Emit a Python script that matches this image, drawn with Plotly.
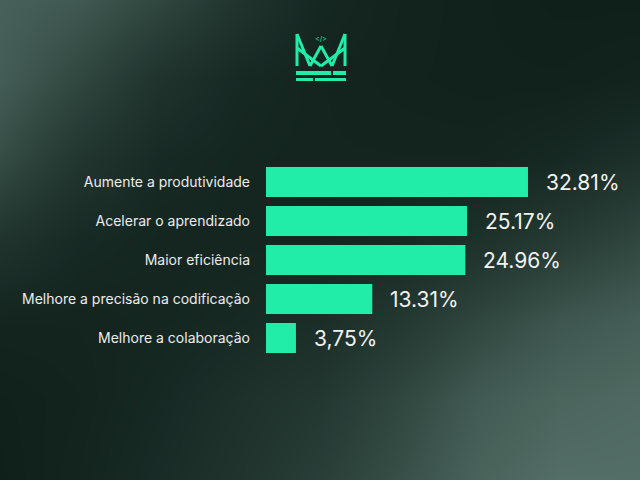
import plotly.graph_objects as go

# ---- data ----
categories = ["Aumente a produtividade", "Acelerar o aprendizado", "Maior eficiência",
              "Melhore a precisão na codificação", "Melhore a colaboração"]
values = [32.81, 25.17, 24.96, 13.31, 3.75]
value_labels = ["32.81%", "25.17%", "24.96%", "13.31%", "3,75%"]

# ---- background brightness grid (decoration) ----
bg_x = [0, 80, 160, 240, 320, 400, 480, 560, 640]
bg_y = [0, 80, 160, 240, 320, 400, 480]
bg_z = [
    [0.85, 0.75, 0.55, 0.30, 0.12, 0.06, 0.03, 0.00, 0.00],
    [0.80, 0.55, 0.28, 0.14, 0.08, 0.05, 0.03, 0.03, 0.06],
    [0.62, 0.32, 0.15, 0.10, 0.08, 0.08, 0.08, 0.14, 0.25],
    [0.30, 0.15, 0.10, 0.10, 0.10, 0.14, 0.25, 0.40, 0.55],
    [0.08, 0.08, 0.10, 0.14, 0.20, 0.35, 0.55, 0.72, 0.82],
    [0.02, 0.06, 0.14, 0.25, 0.35, 0.55, 0.78, 0.90, 0.95],
    [0.00, 0.08, 0.18, 0.30, 0.45, 0.65, 0.88, 1.00, 1.00],
]

GREEN = "#22EDA8"
FONT = "Inter"

fig = go.Figure()

fig.add_trace(go.Heatmap(
    x=bg_x, y=bg_y, z=bg_z, zsmooth="best", showscale=False, hoverinfo="skip",
    colorscale=[[0, "#0f1f1a"], [0.5, "#2c423b"], [1, "#536e66"]],
    zmin=0, zmax=1, xaxis="x", yaxis="y",
))

fig.add_trace(go.Bar(
    x=values, y=categories, orientation="h", marker=dict(color=GREEN, line=dict(width=0)),
    xaxis="x2", yaxis="y2", hoverinfo="skip",
))

for v, c, t in zip(values, categories, value_labels):
    fig.add_annotation(x=v, y=c, xref="x2", yref="y2", text=t, showarrow=False,
                       xanchor="left", xshift=16,
                       font=dict(family=FONT, size=21, color="#f2f2f2"))

# ---- logo (decoration, pixel coords on background axes) ----
lw = 3
logo_lines = [
    (297, 34, 297, 66), (345, 34, 345, 66),
    (297, 34, 310, 66), (310, 66, 321, 46), (321, 46, 332, 66), (332, 66, 345, 34),
    (297, 48, 321, 66), (321, 66, 345, 48),
]
shapes = []
for x0, y0, x1, y1 in logo_lines:
    shapes.append(dict(type="line", xref="x", yref="y", x0=x0, y0=y0, x1=x1, y1=y1,
                       line=dict(color=GREEN, width=lw)))
for x0, y0, x1, y1 in [(296, 71, 331, 75), (333, 71, 346, 75), (296, 78, 313, 81), (315, 78, 346, 81)]:
    shapes.append(dict(type="rect", xref="x", yref="y", x0=x0, y0=y0, x1=x1, y1=y1,
                       fillcolor=GREEN, line=dict(width=0)))
fig.add_annotation(x=321, y=38, xref="x", yref="y", text="&lt;/&gt;", showarrow=False,
                   font=dict(family=FONT, size=7, color=GREEN))

fig.update_layout(
    width=640, height=480, margin=dict(l=0, r=0, t=0, b=0),
    paper_bgcolor="#13231e", plot_bgcolor="rgba(0,0,0,0)",
    showlegend=False, shapes=shapes, bargap=0.23,
    xaxis=dict(domain=[0, 1], range=[0, 640], visible=False, fixedrange=True),
    yaxis=dict(domain=[0, 1], range=[480, 0], visible=False, fixedrange=True),
    xaxis2=dict(domain=[266 / 640, 620 / 640], range=[0, 354 / 7.985], visible=False,
                anchor="y2"),
    yaxis2=dict(domain=[1 - 357.5 / 480, 1 - 162.5 / 480], anchor="x2",
                categoryorder="array", categoryarray=categories, range=[4.5, -0.5],
                showgrid=False, zeroline=False, showline=False, ticks="",
                ticklabelstandoff=15,
                tickfont=dict(family=FONT, size=14, color="#ececec")),
)

fig.write_html("out.html")
